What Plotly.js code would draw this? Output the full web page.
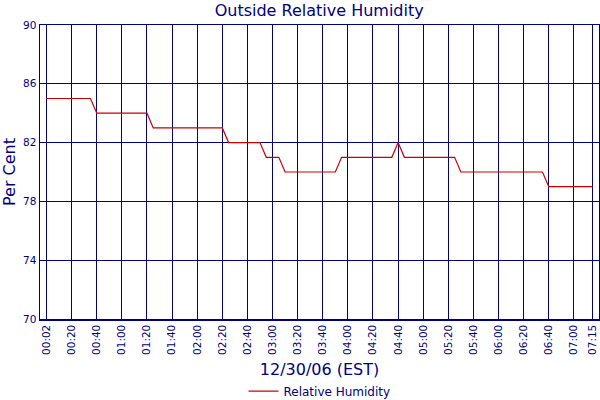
<!DOCTYPE html>
<html>
<head>
<meta charset="utf-8">
<script src="https://cdn.plot.ly/plotly-3.0.1.min.js"></script>
<style>html,body{margin:0;padding:0;background:#fff}#chart{width:600px;height:400px}</style>
</head>
<body>
<div id="chart"></div>
<script>
// minutes since first sample (5-minute samples)
var minutes = [0,5,10,15,20,25,30,35,40,45,50,55,60,65,70,75,80,85,90,95,100,105,110,115,120,125,130,135,140,145,150,155,160,165,170,175,180,185,190,195,200,205,210,215,220,225,230,235,240,245,250,255,260,265,270,275,280,285,290,295,300,305,310,315,320,325,330,335,340,345,350,355,360,365,370,375,380,385,390,395,400,405,410,415,420,425,430,435];
var humidity = [85,85,85,85,85,85,85,85,
  84,84,84,84,84,84,84,84,84,
  83,83,83,83,83,83,83,83,83,83,83,83,
  82,82,82,82,82,82,
  81,81,81,
  80,80,80,80,80,80,80,80,80,
  81,81,81,81,81,81,81,81,81,
  82,
  81,81,81,81,81,81,81,81,81,
  80,80,80,80,80,80,80,80,80,80,80,80,80,80,
  79,79,79,79,79,79,79,79];
var tickPositions = [0,20,40,60,80,100,120,140,160,180,200,220,240,260,280,300,320,340,360,380,400,420,435];
var tickLabels = ["00:02","00:20","00:40","01:00","01:20","01:40","02:00","02:20","02:40","03:00","03:20","03:40","04:00","04:20","04:40","05:00","05:20","05:40","06:00","06:20","06:40","07:00","07:15"];
var yTicks = [70,74,78,82,86,90];

var navy = '#000080';
var trace = {
  x: minutes, y: humidity, type: 'scatter', mode: 'lines',
  name: 'Relative Humidity',
  line: {color: '#cc0000', width: 1.2}
};
var layout = {
  width: 600, height: 400,
  margin: {l: 40, r: 1, t: 25, b: 81, autoexpand: false},
  paper_bgcolor: '#ffffff', plot_bgcolor: '#ffffff',
  font: {family: 'DejaVu Sans, Verdana, sans-serif', color: navy, size: 11},
  title: {text: 'Outside Relative Humidity', font: {size: 16, color: navy}, x: 0.532, xanchor: 'center', y: 0.975, yanchor: 'middle'},
  showlegend: true,
  legend: {orientation: 'h', x: 0.5, xanchor: 'center', y: -0.245, yanchor: 'middle', font: {size: 12, color: navy}},
  xaxis: {
    range: [-5.2, 440], tickmode: 'array', tickvals: tickPositions, ticktext: tickLabels,
    tickangle: -90, tickfont: {size: 10.5, color: navy},
    showgrid: true, gridcolor: navy, gridwidth: 1,
    showline: true, linecolor: navy, linewidth: 1.5, mirror: true,
    ticks: '', zeroline: false, automargin: false,
    title: {text: '12/30/06 (EST)', font: {size: 16, color: navy}, standoff: 10}
  },
  yaxis: {
    range: [70, 90], tickmode: 'array', tickvals: yTicks,
    tickfont: {size: 10.5, color: navy},
    showgrid: true, gridcolor: navy, gridwidth: 1,
    showline: true, linecolor: navy, linewidth: 1.5, mirror: true,
    ticks: '', zeroline: false, automargin: false,
    title: {text: 'Per Cent', font: {size: 16, color: navy}, standoff: 3}
  }
};
Plotly.newPlot('chart', [trace], layout, {displayModeBar: false, staticPlot: true});
</script>
</body>
</html>
